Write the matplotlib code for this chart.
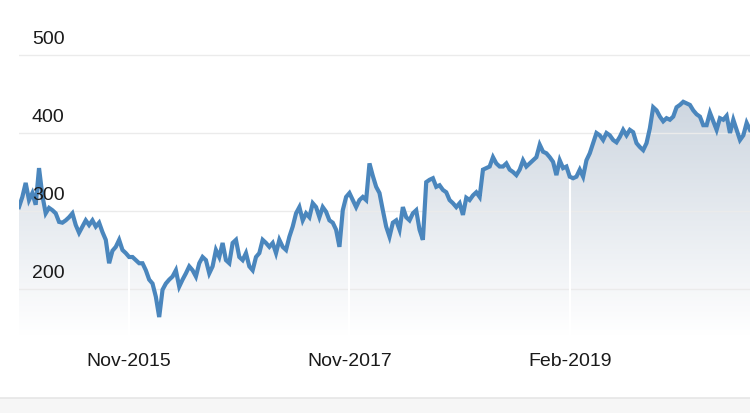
import numpy as np
import matplotlib
matplotlib.use("Agg")
import matplotlib.pyplot as plt
from matplotlib.patches import Rectangle
from matplotlib.path import Path
from matplotlib.patches import PathPatch

# ---- data (evenly spaced samples) ----
prices = [
    305, 318, 336, 314, 323, 308, 355, 320, 297, 304,
    301, 297, 286, 285, 288, 292, 297, 282, 272, 280,
    288, 282, 288, 280, 285, 273, 263, 233, 249, 254,
    263, 250, 246, 241, 241, 237, 233, 233, 224, 212,
    207, 190, 164, 199, 207, 212, 216, 224, 203, 212,
    220, 229, 224, 216, 233, 241, 237, 220, 229, 250,
    241, 259, 237, 233, 259, 263, 241, 237, 246, 229,
    224, 241, 246, 263, 259, 254, 259, 246, 263, 254,
    250, 267, 280, 297, 305, 288, 297, 292, 310, 305,
    292, 305, 299, 288, 285, 276, 254, 301, 318, 323,
    314, 305, 314, 318, 314, 361, 345, 331, 323, 301,
    280, 267, 285, 288, 276, 305, 292, 288, 297, 301,
    276, 263, 337, 340, 342, 331, 333, 327, 324, 314,
    310, 305, 310, 295, 317, 314, 320, 324, 318, 353,
    355, 357, 369, 361, 357, 357, 361, 353, 350, 346,
    353, 365, 357, 361, 365, 369, 385, 376, 374, 369,
    363, 346, 365, 355, 357, 344, 342, 344, 353, 344,
    365, 374, 387, 400, 397, 391, 400, 397, 391, 388,
    395, 404, 397, 404, 401, 387, 382, 378, 387, 406,
    433, 429, 421, 415, 419, 417, 421, 433, 436, 440,
    438, 436, 429, 424, 421, 410, 410, 426, 415, 404,
    419, 417, 422, 400, 417, 404, 391, 397, 413, 404,
]
tick_index = [33, 99, 165]
tick_labels = ["Nov-2015", "Nov-2017", "Feb-2019"]
y_ticks = [200, 300, 400, 500]

W, H = 750, 413
fig = plt.figure(figsize=(W / 100, H / 100), dpi=100)
fig.patch.set_facecolor("white")

# bottom grey strip
fig.patches.append(Rectangle((0, 0), 1, 15 / H, transform=fig.transFigure,
                             facecolor="#f6f6f6", edgecolor="none", zorder=0))
fig.add_artist(plt.Line2D([0, 1], [15 / H, 15 / H], transform=fig.transFigure,
                          color="#e6e6e6", lw=1.2))

left = 19 / W
bottom = (H - 335) / H
height = (335 - 16) / H
ax = fig.add_axes([left, bottom, 1 - left, height])
ax.set_facecolor("none")

n = len(prices)
x = np.arange(n)
y = np.array(prices, dtype=float)
ymin, ymax = 141, 550
ax.set_xlim(0, n - 1)
ax.set_ylim(ymin, ymax)

# gradient fill under the line
verts = [(0, ymin)] + list(zip(x, y)) + [(n - 1, ymin), (0, ymin)]
codes = [Path.MOVETO] + [Path.LINETO] * (len(verts) - 2) + [Path.CLOSEPOLY]
clip = PathPatch(Path(verts, codes), facecolor="none", edgecolor="none")
ax.add_patch(clip)
top_c = np.array([0.80, 0.835, 0.875])
bot_c = np.array([1.0, 1.0, 1.0])
t = np.linspace(0, 1, 256)[:, None]
grad = (top_c * (1 - t) + bot_c * t)[:, None, :]
grad = np.repeat(grad, 2, axis=1)
im = ax.imshow(grad, extent=[0, n - 1, ymin, 450], origin="upper",
               aspect="auto", zorder=1, interpolation="bilinear")
im.set_clip_path(clip)
im2 = ax.imshow(np.repeat(top_c[None, None, :], 2, axis=1), extent=[0, n - 1, 450, ymax],
                aspect="auto", zorder=1)
im2.set_clip_path(clip)

# horizontal gridlines + labels
for v in y_ticks:
    ax.axhline(v, color="#ebebeb", lw=1.0, zorder=2)
    ax.text(13 / (W - 19), v + 9, str(v), transform=ax.get_yaxis_transform(),
            ha="left", va="bottom", fontsize=14, color="#1a1a1a",
            family="Liberation Sans", zorder=5)

# white vertical gridlines at ticks, only inside the filled area
for ti in tick_index:
    vl = ax.axvline(ti, color="white", lw=1.5, zorder=2.5)
    vl.set_clip_path(clip)

ax.plot(x, y, color="#4a86bd", lw=3.0, zorder=4, solid_joinstyle="miter")

ax.set_xticks(tick_index)
ax.set_xticklabels(tick_labels, fontsize=14, color="#1a1a1a", family="Liberation Sans")
ax.tick_params(axis="x", length=0, pad=13)
ax.set_yticks([])
for s in ax.spines.values():
    s.set_visible(False)

fig.savefig("out.png", dpi=100, facecolor="white")
